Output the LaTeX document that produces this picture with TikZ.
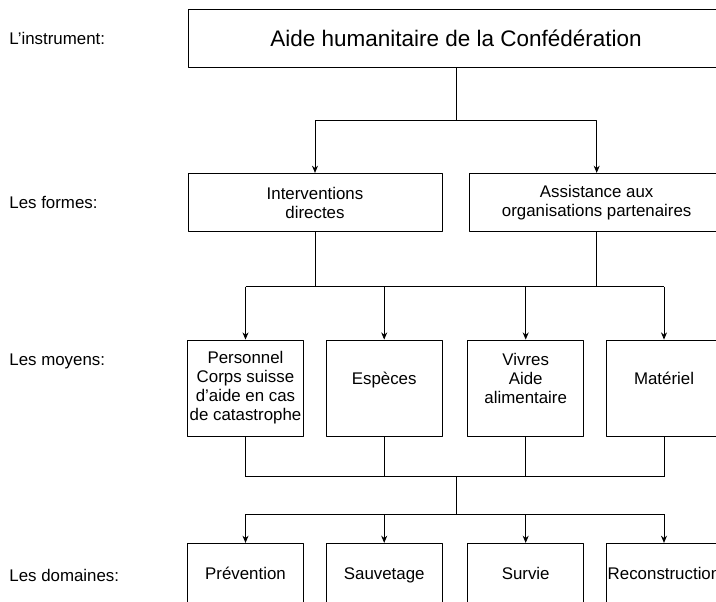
\documentclass[tikz,border=0pt]{standalone}
\usepackage{fontspec}
\setmainfont{Liberation Sans}
\usetikzlibrary{arrows.meta}
\begin{document}
\begin{tikzpicture}[>={Stealth[length=1.8mm,width=1.5mm]},line join=round,x=0.25mm,y=-0.25mm,
		font=\fontsize{12}{13.5}\selectfont,line width=0.6pt,
		boite/.style={draw,align=center,inner sep=0pt,minimum width=28.9mm},
		niveau/.style={anchor=base west,inner sep=0pt}]
				\useasboundingbox (0,0) rectangle (716,601);
				\clip (0,0) rectangle (716,601);
				\path
				(0,120) coordinate (F1)
				(0,286.5) coordinate (F2)
				(456,476.7) coordinate (M)
				(0,514.3) coordinate (F3)
				;
				\node[boite,minimum width=134mm,minimum height=14.5mm,font=\fontsize{16}{18}\selectfont] (aide) at (456,38.4) {Aide humanitaire de la Confédération};
				\node[boite,minimum width=63.5mm,minimum height=14.6mm] (inter) at (315,202.5) {Interventions\\directes};
				\node[boite,minimum width=63.5mm,minimum height=14.6mm] (assist) at (596.7,202.5) {Assistance aux\\organisations partenaires};
				\foreach \n/\x/\t in {pers/245.5/{Personnel\\Corps suisse\\d’aide en cas\\de catastrophe},esp/384.2/{Espèces\\\mbox{}},viv/525.7/{Vivres\\Aide\\alimentaire\\\mbox{}},mat/664/{Matériel\\\mbox{}}}
					\node[boite,minimum height=24mm] (\n) at (\x,388) {\t};
				\foreach \n/\x/\t in {prev/245.5/Prévention,sauv/384.2/Sauvetage,surv/525.7/Survie,recon/664/Reconstruction}
					\node[boite,minimum height=16mm,text height=9pt,text depth=2.6pt] (\n) at (\x,575.3) {\t};
				\foreach \n/\y/\t in {linstr/44.5/L’instrument:,lformes/208.5/Les formes:,lmoyens/365.5/Les moyens:,ldom/581/Les domaines:}
					\node[niveau] (\n) at (9,\y) {\t};
				\draw (aide.south) -- (aide.south |- F1);
				\draw[->] (aide.south |- F1) -| (inter.north);
				\draw[->] (aide.south |- F1) -| (assist.north);
				\draw (inter.south) -- (inter.south |- F2) (assist.south) -- (assist.south |- F2)
				(pers.north |- F2) -- (mat.north |- F2);
				\foreach \n in {pers,esp,viv,mat}\draw[->] (\n.north |- F2) -- (\n.north);
				\foreach \n in {pers,esp,viv,mat}\draw (\n.south) -- (\n.south |- M);
				\draw (pers.south |- M) -- (mat.south |- M) (M) -- (M |- F3)
				(prev.north |- F3) -- (recon.north |- F3);
				\foreach \n in {prev,sauv,surv,recon}\draw[->] (\n.north |- F3) -- (\n.north);
			\end{tikzpicture}
\end{document}
